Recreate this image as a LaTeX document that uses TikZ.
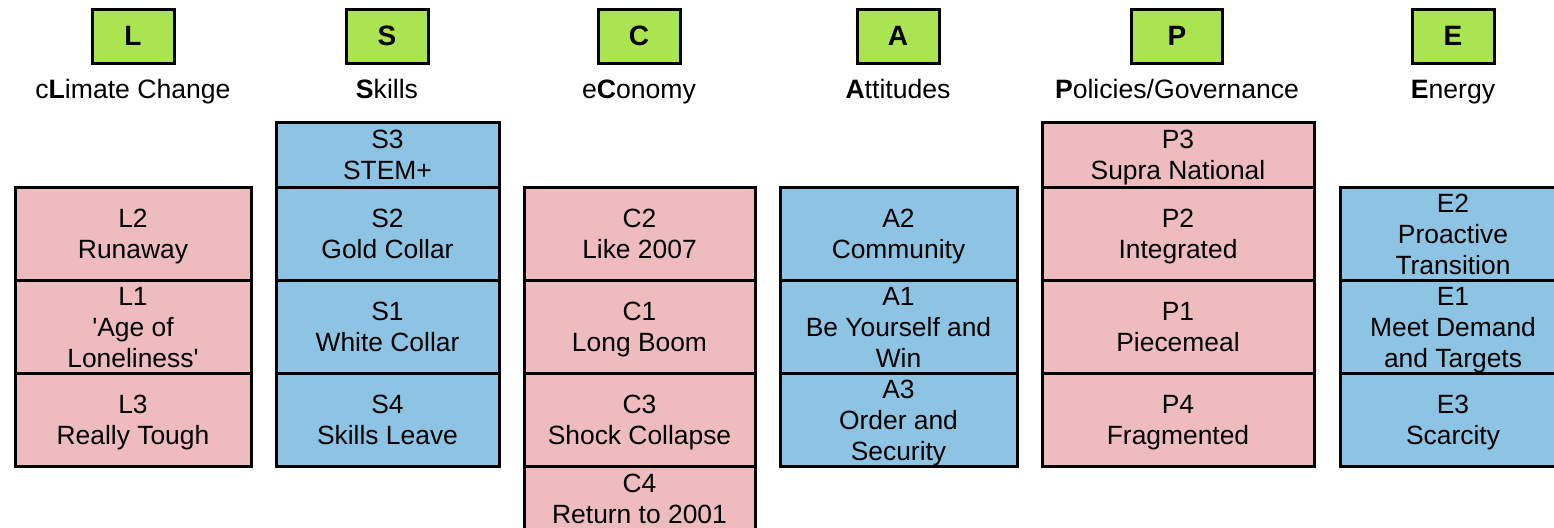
\documentclass[tikz,border=0pt]{standalone}
\usepackage{fontspec}
\setmainfont{Liberation Sans}
\definecolor{pinkc}{RGB}{238,187,190}
\definecolor{bluec}{RGB}{141,196,227}
\definecolor{greenc}{RGB}{170,228,80}
\newcommand\sx{\rule[-3pt]{0pt}{15.5pt}}
\begin{document}
\begin{tikzpicture}[x=0.5pt,y=-0.5pt,
  cell/.style={draw=black, line width=1.5pt, inner sep=0pt, align=center,
    font=\fontsize{13.2}{15.5}\selectfont},
  pinkcell/.style={cell, fill=pinkc},
  bluecell/.style={cell, fill=bluec},
  head/.style={draw=black, line width=1.5pt, fill=greenc, inner sep=0pt,
    minimum width=41pt, minimum height=27pt, font=\fontsize{14}{16}\selectfont\bfseries},
  title/.style={inner sep=0pt, anchor=base, font=\fontsize{13.3}{15.5}\selectfont},
  wL/.style={minimum width=118pt},
  wS/.style={minimum width=111.5pt},
  wC/.style={minimum width=115.5pt},
  wA/.style={minimum width=118.5pt},
  wP/.style={minimum width=136pt},
  wE/.style={minimum width=113pt},
  hsmall/.style={minimum height=32.5pt},
  hbig/.style={minimum height=46.5pt}
]
\useasboundingbox (0,0) rectangle (1554,527);
\clip (0,0) rectangle (1554,527);
\fill[white] (0,0) rectangle (1554,527);

% headers
\node[head] (hL) at (133,36) {L};
\node[head] (hS) at (387,36) {S};
\node[head] (hC) at (639,36) {C};
\node[head] (hA) at (898,36) {A};
\node[head, minimum width=45.5pt] (hP) at (1177,36) {P};
\node[head] (hE) at (1453,36) {E};

\node[title] (tL) at (133,98) {c\textbf{L}imate Change};
\node[title] (tS) at (387,98) {\textbf{S}kills};
\node[title] (tC) at (639,98) {e\textbf{C}onomy};
\node[title] (tA) at (898,98) {\textbf{A}ttitudes};
\node[title] (tP) at (1177,98) {\textbf{P}olicies/Governance};
\node[title] (tE) at (1453,98) {\textbf{E}nergy};

% L column
\node[pinkcell, wL, hbig] (L2) at (133,233.5) {\sx L2\\Runaway\sx};
\node[pinkcell, wL, hbig] (L1) at (133,326.5) {\sx L1\\\textquotesingle Age of\\Loneliness\textquotesingle\sx};
\node[pinkcell, wL, hbig] (L3) at (133,419.5) {\sx L3\\Really Tough\sx};

% S column
\node[bluecell, wS, hsmall] (S3) at (387.5,154.5) {\sx S3\\STEM+\sx};
\node[bluecell, wS, hbig] (S2) at (387.5,233.5) {\sx S2\\Gold Collar\sx};
\node[bluecell, wS, hbig] (S1) at (387.5,326.5) {\sx S1\\White Collar\sx};
\node[bluecell, wS, hbig] (S4) at (387.5,419.5) {\sx S4\\Skills Leave\sx};

% C column
\node[pinkcell, wC, hbig] (C2) at (639.5,233.5) {\sx C2\\Like 2007\sx};
\node[pinkcell, wC, hbig] (C1) at (639.5,326.5) {\sx C1\\Long Boom\sx};
\node[pinkcell, wC, hbig] (C3) at (639.5,419.5) {\sx C3\\Shock Collapse\sx};
\node[pinkcell, wC, minimum height=32pt] (C4) at (639.5,498) {\sx C4\\Return to 2001\sx};

% A column
\node[bluecell, wA, hbig] (A2) at (898.5,233.5) {\sx A2\\Community\sx};
\node[bluecell, wA, hbig] (A1) at (898.5,326.5) {\sx A1\\Be Yourself and\\Win\sx};
\node[bluecell, wA, hbig] (A3) at (898.5,419.5) {\sx A3\\Order and\\Security\sx};

% P column
\node[pinkcell, wP, hsmall] (P3) at (1178,154.5) {\sx P3\\Supra National\sx};
\node[pinkcell, wP, hbig] (P2) at (1178,233.5) {\sx P2\\Integrated\sx};
\node[pinkcell, wP, hbig] (P1) at (1178,326.5) {\sx P1\\Piecemeal\sx};
\node[pinkcell, wP, hbig] (P4) at (1178,419.5) {\sx P4\\Fragmented\sx};

% E column
\node[bluecell, wE, hbig] (E2) at (1453,233.5) {\sx E2\\Proactive\\Transition\sx};
\node[bluecell, wE, hbig] (E1) at (1453,326.5) {\sx E1\\Meet Demand\\and Targets\sx};
\node[bluecell, wE, hbig] (E3) at (1453,419.5) {\sx E3\\Scarcity\sx};
\end{tikzpicture}
\end{document}
